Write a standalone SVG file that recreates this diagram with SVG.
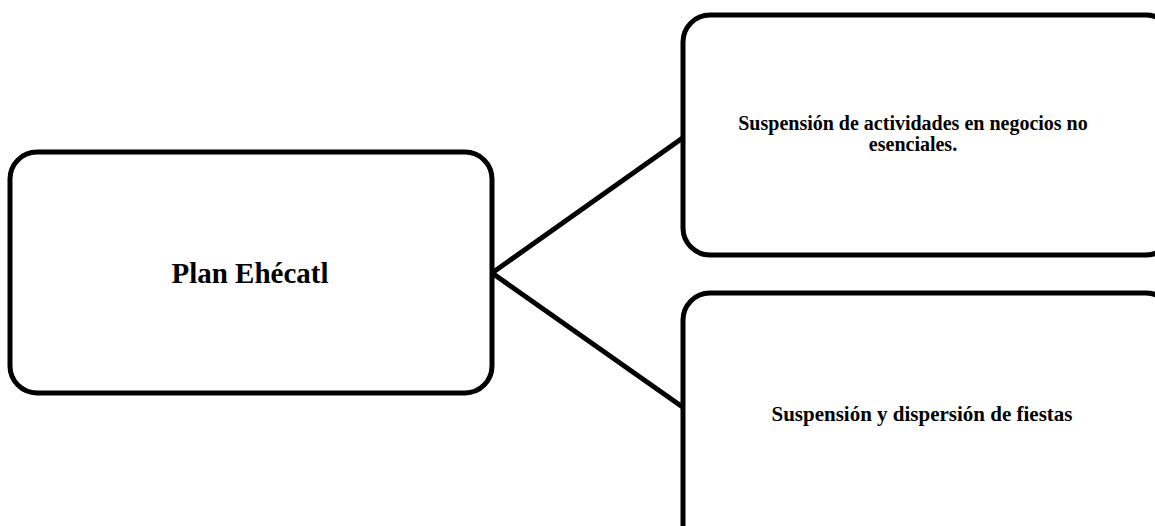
<svg xmlns="http://www.w3.org/2000/svg" width="1155" height="526" viewBox="0 0 1155 526">
<style>
.box{fill:#fff;stroke:#000;stroke-width:5}
.conn{fill:none;stroke:#000;stroke-width:5}
.t{font-family:"Liberation Serif","Times New Roman",serif;font-weight:bold;fill:#000;text-anchor:middle}
.s{font-size:20px}
</style>
<rect width="1155" height="526" fill="#fff"/>
<g id="connectors">
<line class="conn" x1="492" y1="273" x2="684" y2="137"/>
<line class="conn" x1="492" y1="273" x2="684" y2="408"/>
</g>
<g id="node-plan">
<rect class="box" x="10" y="152" width="482" height="241" rx="27"/>
<text class="t" x="250" y="283" font-size="29">Plan Ehécatl</text>
</g>
<g id="node-negocios">
<rect class="box" x="683" y="15" width="490" height="240" rx="27"/>
<text class="t s" x="913" y="130">Suspensión de actividades en negocios no</text>
<text class="t s" x="913" y="151">esenciales.</text>
</g>
<g id="node-fiestas">
<rect class="box" x="683" y="293" width="490" height="260" rx="27"/>
<text class="t" x="922" y="421" font-size="21">Suspensión y dispersión de fiestas</text>
</g>
</svg>
